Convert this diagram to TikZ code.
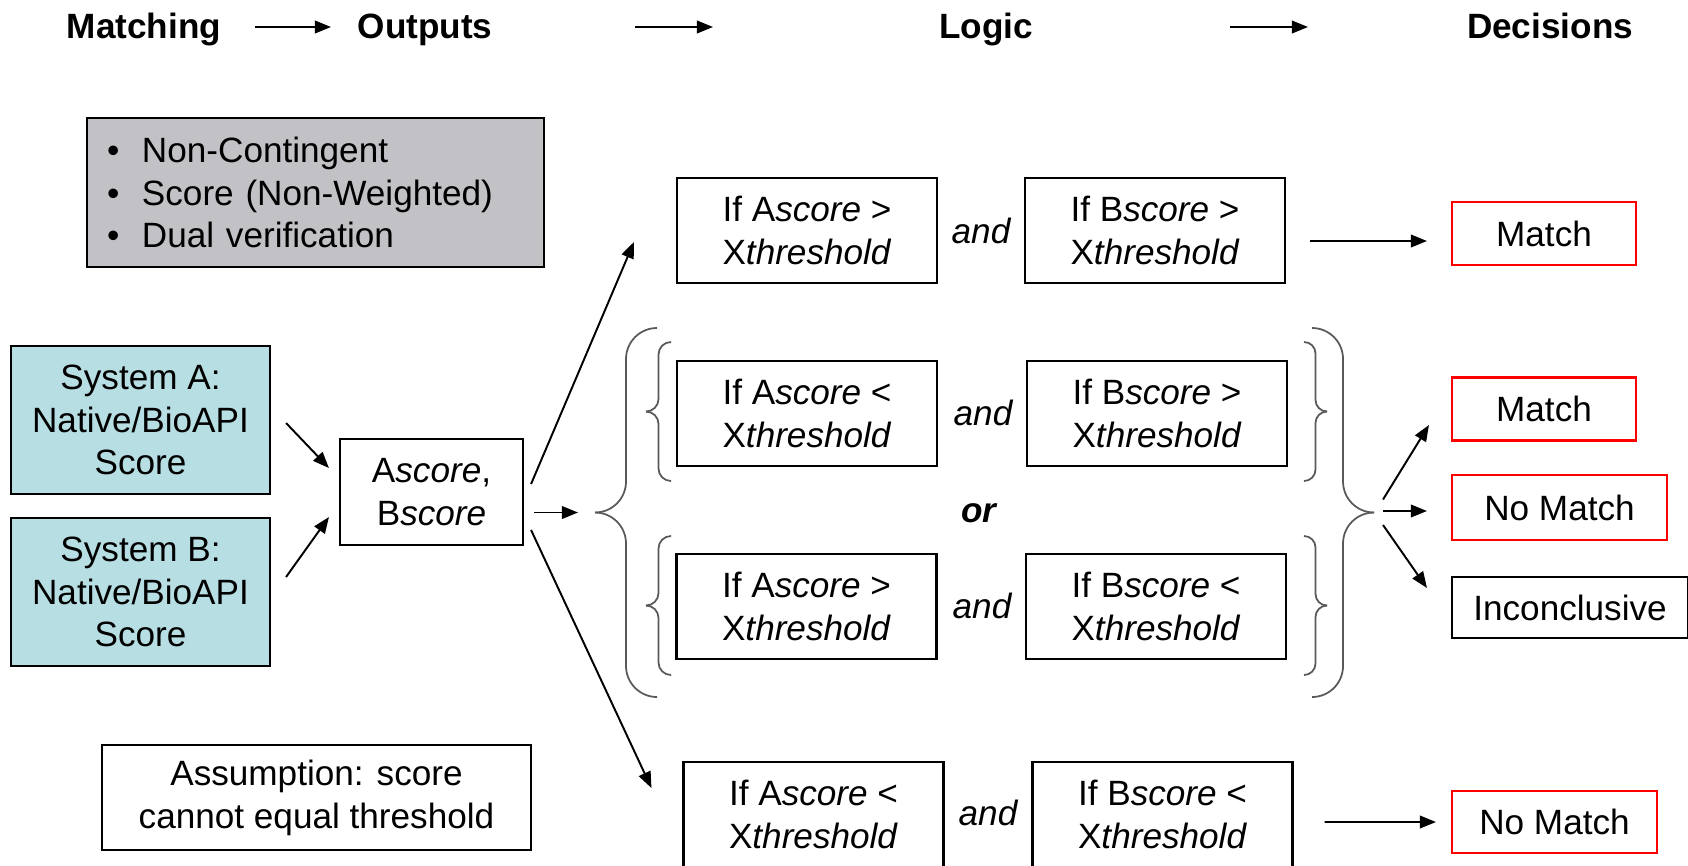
\documentclass[tikz,border=0pt]{standalone}
\usepackage{fontspec}
\setmainfont{Liberation Sans}
\usetikzlibrary{arrows.meta,calc}

\definecolor{propgray}{RGB}{193,193,198}
\definecolor{systeal}{RGB}{183,222,226}

% A + italic "score", X + italic "threshold"
\newcommand{\sv}[1]{#1\textit{score}}
\newcommand{\xth}{X\textit{threshold}}

\begin{document}
\begin{tikzpicture}[x=0.1mm,y=-0.1mm,
    every node/.style={inner sep=0pt, font=\fontsize{10}{12.2}\selectfont},
    head/.style={font=\fontsize{10}{12.2}\selectfont\bfseries, anchor=base},
    propbox/.style={draw, fill=propgray, line width=0.6pt, minimum width=45.7mm,
      minimum height=14.9mm, text width=41.7mm, inner xsep=2mm, align=left},
    sysbox/.style={draw, fill=systeal, line width=0.6pt, minimum width=25.9mm,
      minimum height=14.8mm, align=center},
    condbox/.style={draw, line width=0.6pt, minimum width=26mm, minimum height=10.5mm,
      align=center},
    decbox/.style={draw=red, line width=0.6pt, minimum height=6.3mm},
    andword/.style={font=\fontsize{10}{12.2}\selectfont\itshape},
    arr/.style={-{Triangle[length=4.6pt,width=3.6pt]}, line width=0.55pt},
    brc/.style={draw=black!65, line width=0.5pt}]

  \useasboundingbox (0,0) rectangle (1688,865);
  \clip (0,0) rectangle (1688,865);

  % header row
  \node[head] (hmatch) at (144,38) {Matching};
  \node[head] (hout) at (425,38) {Outputs};
  \node[head] (hlogic) at (986,38) {Logic};
  \node[head] (hdec) at (1550,38) {Decisions};
  \coordinate (ha1) at (255,27);  \coordinate (hb1) at (331,27);
  \coordinate (ha2) at (635,27);  \coordinate (hb2) at (713,27);
  \coordinate (ha3) at (1230,27); \coordinate (hb3) at (1308,27);
  \draw[arr] (ha1) -- (hb1);
  \draw[arr] (ha2) -- (hb2);
  \draw[arr] (ha3) -- (hb3);

  % left column
  \node[propbox] (props) at (315.5,192.5)
    {\textbullet\hspace{2.27mm}Non-Contingent\\
     \textbullet\hspace{2.27mm}Score (Non-Weighted)\\
     \textbullet\hspace{2.27mm}Dual verification};
  \node[sysbox] (sysA) at (140.5,420) {System A:\\Native/BioAPI\\Score};
  \node[sysbox] (sysB) at (140.5,592) {System B:\\Native/BioAPI\\Score};
  \node[condbox, minimum width=18.3mm, minimum height=10.6mm] (out) at (431.5,492)
    {\sv{A},\\\sv{B}};
  \node[condbox, minimum width=42.9mm] (asm) at (316.5,797.5)
    {Assumption: score\\cannot equal threshold};

  % logic rows
  \node[condbox] (r1a) at (807,230.5) {If \sv{A} >\\\xth};
  \node[andword] (and1) at (981,231) {and};
  \node[condbox] (r1b) at (1155,230.5) {If \sv{B} >\\\xth};

  \node[condbox] (r2a) at (807,413.5) {If \sv{A} <\\\xth};
  \node[andword] (and2) at (983,413) {and};
  \node[condbox] (r2b) at (1157,413.5) {If \sv{B} >\\\xth};

  \node[font=\fontsize{10}{12.2}\selectfont\bfseries\itshape] (or) at (979,513) {or};

  \node[condbox] (r3a) at (806.5,606.5) {If \sv{A} >\\\xth};
  \node[andword] (and3) at (982,606) {and};
  \node[condbox] (r3b) at (1156,606.5) {If \sv{B} <\\\xth};

  \node[condbox] (r4a) at (813.5,814.5) {If \sv{A} <\\\xth};
  \node[andword] (and4) at (988,813) {and};
  \node[condbox] (r4b) at (1162.5,814.5) {If \sv{B} <\\\xth};

  % braces
  \draw[brc, rounded corners=3.1mm] (657,328) -- (626,328) -- (626,512.5) -- (595,512.5);
  \draw[brc, rounded corners=3.1mm] (657,697) -- (626,697) -- (626,512.5) -- (595,512.5);
  \draw[brc, rounded corners=1.25mm] (671,342) -- (658.5,342) -- (658.5,411.5) -- (646,411.5);
  \draw[brc, rounded corners=1.25mm] (671,481) -- (658.5,481) -- (658.5,411.5) -- (646,411.5);
  \draw[brc, rounded corners=1.25mm] (671,536) -- (658.5,536) -- (658.5,605.5) -- (646,605.5);
  \draw[brc, rounded corners=1.25mm] (671,675) -- (658.5,675) -- (658.5,605.5) -- (646,605.5);
  \draw[brc, rounded corners=1.15mm] (1304,342) -- (1315.5,342) -- (1315.5,411.5) -- (1327,411.5);
  \draw[brc, rounded corners=1.15mm] (1304,481) -- (1315.5,481) -- (1315.5,411.5) -- (1327,411.5);
  \draw[brc, rounded corners=1.15mm] (1304,536) -- (1315.5,536) -- (1315.5,605.5) -- (1327,605.5);
  \draw[brc, rounded corners=1.15mm] (1304,675) -- (1315.5,675) -- (1315.5,605.5) -- (1327,605.5);
  \draw[brc, rounded corners=3.1mm] (1312,328) -- (1343,328) -- (1343,512.5) -- (1374,512.5);
  \draw[brc, rounded corners=3.1mm] (1312,697) -- (1343,697) -- (1343,512.5) -- (1374,512.5);
  \coordinate (lbtip) at (595,512.5);
  \coordinate (rbtip) at (1374,512.5);

  % decisions
  \node[decbox, minimum width=18.4mm] (m1) at (1544,233.5) {Match};
  \node[decbox, minimum width=18.4mm] (m2) at (1544,409) {Match};
  \node[decbox, minimum width=21.5mm, minimum height=6.5mm] (nm2) at (1559.5,507.5) {No Match};
  \node[draw, line width=0.6pt, minimum width=23.6mm, minimum height=6.1mm] (inc) at (1570,607.5) {Inconclusive};
  \node[decbox, minimum width=20.5mm, minimum height=6.2mm] (nm4) at (1554.5,822) {No Match};

  % connectors
  \draw[arr] ($(sysA.east)+(15,3)$) -- ($(out.west)+(-10,-24)$);
  \draw[arr] ($(sysB.east)+(15,-15)$) -- ($(out.west)+(-10,25)$);
  \draw[arr] ($(out.east)+(10,20.5)$) -- ($(lbtip)+(-17,0)$);
  \draw[arr] ($(out.east)+(7,-8)$) -- ($(r1a.west)+(-42,11.5)$);
  \draw[arr] ($(out.east)+(7,38)$) -- ($(r4a.west)+(-31,-26.5)$);
  \draw[arr] ($(r1b.east)+(24,10.5)$) -- ($(m1.west)+(-24,7.5)$);
  \draw[arr] ($(r4b.east)+(31,7.5)$) -- ($(nm4.west)+(-15,0)$);
  \draw[arr] ($(rbtip)+(9,-13)$) -- ($(m2.west)+(-22,16)$);
  \draw[arr] ($(rbtip)+(9,-1.5)$) -- ($(nm2.west)+(-24,3.5)$);
  \draw[arr] ($(rbtip)+(9,12.5)$) -- ($(inc.west)+(-24,-19.5)$);
\end{tikzpicture}
\end{document}
